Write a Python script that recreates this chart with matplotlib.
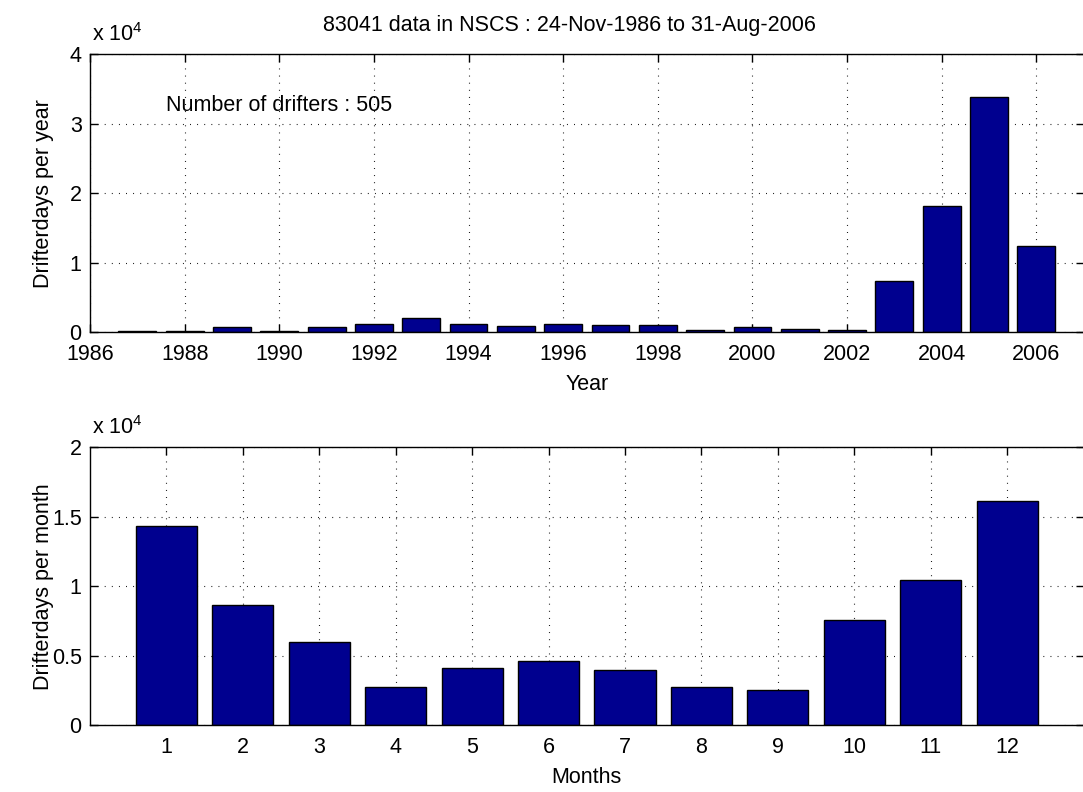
import numpy as np
import matplotlib.pyplot as plt

# drifter data counts per calendar year and per month
years = np.arange(1987, 2007)
per_year = np.array([240, 240, 720, 240, 720, 1290, 2050, 1290, 1000, 1290,
                     1050, 1050, 290, 760, 530, 290, 7450, 18200, 33900, 12500])
months = np.arange(1, 13)
per_month = np.array([14300, 8630, 6000, 2780, 4100, 4630,
                      3960, 2770, 2540, 7540, 10440, 16100])
year_ticks = np.arange(1986, 2007, 2)
n_drifters = 505
n_data = 83041
title = f'{n_data} data in NSCS : 24-Nov-1986 to 31-Aug-2006'

scale = 1e4
bar_color = '#00008F'
fs = 15.5

plt.rcParams['font.family'] = ['Liberation Sans', 'DejaVu Sans']
plt.rcParams['font.size'] = fs
plt.rcParams['mathtext.default'] = 'regular'

fig = plt.figure(figsize=(10.83, 7.92), dpi=100)
ax1 = fig.add_axes([0.0831, 0.5802, 0.9175, 0.3512])
ax2 = fig.add_axes([0.0831, 0.0840, 0.9175, 0.3516])


def style_axes(ax):
    ax.set_axisbelow(True)
    ax.grid(True, color='black', linewidth=0.8, linestyle=(0, (0.8, 5.6)))
    ax.tick_params(direction='in', length=6, width=1, top=True, right=True,
                   labelsize=fs)
    ax.tick_params(axis='x', pad=8.5)
    ax.tick_params(axis='y', pad=6)
    ax.yaxis.set_label_coords(-0.036, 0.5)
    for s in ax.spines.values():
        s.set_linewidth(1)


ax1.bar(years, per_year / scale, width=0.8, color=bar_color,
        edgecolor='black', linewidth=1)
ax1.set_xlim(1986, 2007)
ax1.set_ylim(0, 4)
ax1.set_xticks(year_ticks)
ax1.set_yticks([0, 1, 2, 3, 4])
ax1.set_xlabel('Year', fontsize=fs, labelpad=6)
ax1.set_ylabel('Drifterdays per year', fontsize=fs)
ax1.set_title(title, fontsize=fs, x=0.483, pad=17)
ax1.text(1987.6, 3.27, f'Number of drifters : {n_drifters}', fontsize=fs,
         va='center', ha='left')
ax1.text(0.002, 1.03, r'x 10$^{4}$', transform=ax1.transAxes, fontsize=fs,
         va='bottom', ha='left')
style_axes(ax1)

ax2.bar(months, per_month / scale, width=0.8, color=bar_color,
        edgecolor='black', linewidth=1)
ax2.set_xlim(0, 13)
ax2.set_ylim(0, 2)
ax2.set_xticks(months)
ax2.set_yticks([0, 0.5, 1, 1.5, 2])
ax2.set_yticklabels(['0', '0.5', '1', '1.5', '2'])
ax2.set_xlabel('Months', fontsize=fs, labelpad=6)
ax2.set_ylabel('Drifterdays per month', fontsize=fs)
ax2.text(0.002, 1.03, r'x 10$^{4}$', transform=ax2.transAxes, fontsize=fs,
         va='bottom', ha='left')
style_axes(ax2)

fig.savefig('out.png', dpi=100)
